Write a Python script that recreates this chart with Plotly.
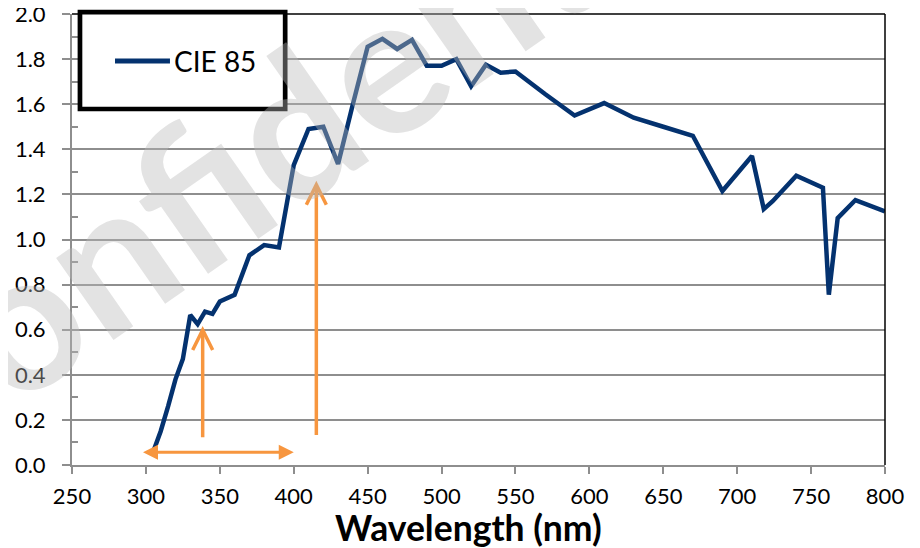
import plotly.graph_objects as go

# ---------------- data ----------------
wavelength_nm = [305, 310, 315, 320, 325, 330, 335, 340, 345, 350, 360, 370, 380, 390,
                 400, 410, 420, 430, 440, 450, 460, 470, 480, 490, 500, 510, 520, 530,
                 540, 550, 570, 590, 610, 630, 650, 670, 690, 710, 718, 724, 740, 753,
                 758, 762, 768, 780, 800]
irradiance = [0.06, 0.15, 0.26, 0.38, 0.47, 0.665, 0.625, 0.68, 0.67, 0.725, 0.755, 0.93,
              0.975, 0.965, 1.33, 1.49, 1.50, 1.335, 1.60, 1.855, 1.89, 1.845, 1.885, 1.77,
              1.77, 1.80, 1.68, 1.775, 1.74, 1.745, 1.645, 1.55, 1.605, 1.54, 1.50, 1.46,
              1.215, 1.37, 1.135, 1.17, 1.283, 1.245, 1.23, 0.755, 1.095, 1.175, 1.125]
series_name = "CIE 85"

x_tick_vals = [250, 300, 350, 400, 450, 500, 550, 600, 650, 700, 750, 800]
y_tick_vals = [0.0, 0.2, 0.4, 0.6, 0.8, 1.0, 1.2, 1.4, 1.6, 1.8, 2.0]
y_tick_text = ["0.0", "0.2", "0.4", "0.6", "0.8", "1.0", "1.2", "1.4", "1.6", "1.8", "2.0"]
x_title = "Wavelength (nm)"
watermark_text = "Confidential"

# orange annotation arrows (data coordinates)
h_arrow_x = [297, 400]
h_arrow_y = 0.056
v_arrow_x = [338.4, 415.3]
v_arrow_y0 = [0.123, 0.133]
v_arrow_y1 = [0.599, 1.243]

# ---------------- style ----------------
NAVY = "#04326f"
ORANGE = "#F7963F"
GRID = "#8e8e8e"
FONT = "Lato"

fig = go.Figure()
fig.add_trace(go.Scatter(
    x=wavelength_nm, y=irradiance, mode="lines", name=series_name,
    line=dict(color=NAVY, width=4.5), showlegend=False,
))
# helper trace so the overlay axis (for crossing minor ticks) is drawn
fig.add_trace(go.Scatter(x=[], y=[], yaxis="y2", showlegend=False, hoverinfo="skip"))

# page body has an 8px margin, so the figure is 8px smaller than the window
fig.update_layout(
    width=912, height=540,
    margin=dict(l=64, r=35, t=6, b=83),
    paper_bgcolor="white", plot_bgcolor="white",
    font=dict(family=FONT, color="black"),
    xaxis=dict(
        range=[250, 800], tickvals=x_tick_vals, ticks="outside", ticklen=7,
        tickwidth=1.5, tickcolor=GRID, showgrid=False, zeroline=False,
        showline=True, linecolor=GRID, linewidth=2, automargin=False,
        ticklabeloverflow="allow",
        tickfont=dict(family=FONT, size=22, color="black"), ticklabelstandoff=4,
    ),
    yaxis=dict(
        range=[0, 2], tickvals=y_tick_vals, ticktext=y_tick_text, ticks="outside",
        ticklen=8, tickwidth=1.5, tickcolor=GRID, showgrid=True, gridcolor=GRID,
        gridwidth=1.5, zeroline=False, showline=True, linecolor=GRID, linewidth=2,
        automargin=False, ticklabeloverflow="allow",
        tickfont=dict(family=FONT, size=22, color="black"), ticklabelstandoff=12,
    ),
    yaxis2=dict(
        range=[0, 2], overlaying="y", side="left", tick0=0.1, dtick=0.2,
        ticks="inside", ticklen=6, tickwidth=1.5, tickcolor=GRID, automargin=False,
        showticklabels=False, showgrid=False, zeroline=False, showline=False,
    ),
)

shapes = []
# plot-area border (top & right in black)
shapes.append(dict(type="line", xref="paper", yref="paper", x0=0, x1=1, y0=1, y1=1,
                   line=dict(color="black", width=1.5), layer="above"))
shapes.append(dict(type="line", xref="paper", yref="paper", x0=1, x1=1, y0=0, y1=1,
                   line=dict(color="black", width=1.5), layer="above"))
# legend box
shapes.append(dict(type="rect", xref="paper", yref="paper", x0=0.0098, x1=0.2622,
                   y0=0.7894, y1=1.004, fillcolor="white",
                   line=dict(color="black", width=4.7), layer="above"))
# legend sample line
shapes.append(dict(type="line", xref="paper", yref="paper", x0=0.0529, x1=0.1205,
                   y0=0.8958, y1=0.8958, line=dict(color=NAVY, width=4.8), layer="above"))
# vertical orange arrows: shaft + chevron head
for xv, ya, yb in zip(v_arrow_x, v_arrow_y0, v_arrow_y1):
    shapes.append(dict(type="line", xref="x", yref="y", x0=xv, x1=xv, y0=ya, y1=yb - 0.01,
                       line=dict(color=ORANGE, width=3.5), layer="above"))
    shapes.append(dict(type="path", xref="x", yref="y", xsizemode="pixel", ysizemode="pixel",
                       xanchor=xv, yanchor=yb, path="M-10,-20 L0,0 L10,-20",
                       line=dict(color=ORANGE, width=3.5), layer="above"))
fig.update_layout(shapes=shapes)

annotations = []
# legend text
annotations.append(dict(text=series_name, xref="paper", yref="paper", x=0.1235, y=0.8958,
                        xanchor="left", yanchor="middle", showarrow=False,
                        font=dict(family=FONT, size=28, color="black")))
# x axis title
annotations.append(dict(text="<b>" + x_title + "</b>", xref="paper", yref="paper",
                        x=0.4875, y=-0.1396, xanchor="center", yanchor="middle",
                        showarrow=False, font=dict(family=FONT, size=35.5, color="black")))
# horizontal double arrow
annotations.append(dict(text="", x=h_arrow_x[1], y=h_arrow_y, ax=h_arrow_x[0], ay=h_arrow_y,
                        xref="x", yref="y", axref="x", ayref="y", showarrow=True,
                        arrowhead=2, startarrowhead=2, arrowside="end+start",
                        arrowwidth=3, arrowsize=1, startarrowsize=1, arrowcolor=ORANGE))
# watermark
annotations.append(dict(text="<b>" + watermark_text + "</b>", xref="x", yref="y",
                        x=404.1, y=1.539, xanchor="center", yanchor="middle",
                        textangle=-35, showarrow=False,
                        font=dict(family=FONT, size=195, color="rgba(185,185,185,0.4)")))
fig.update_layout(annotations=annotations)

fig.write_html("out.html")
